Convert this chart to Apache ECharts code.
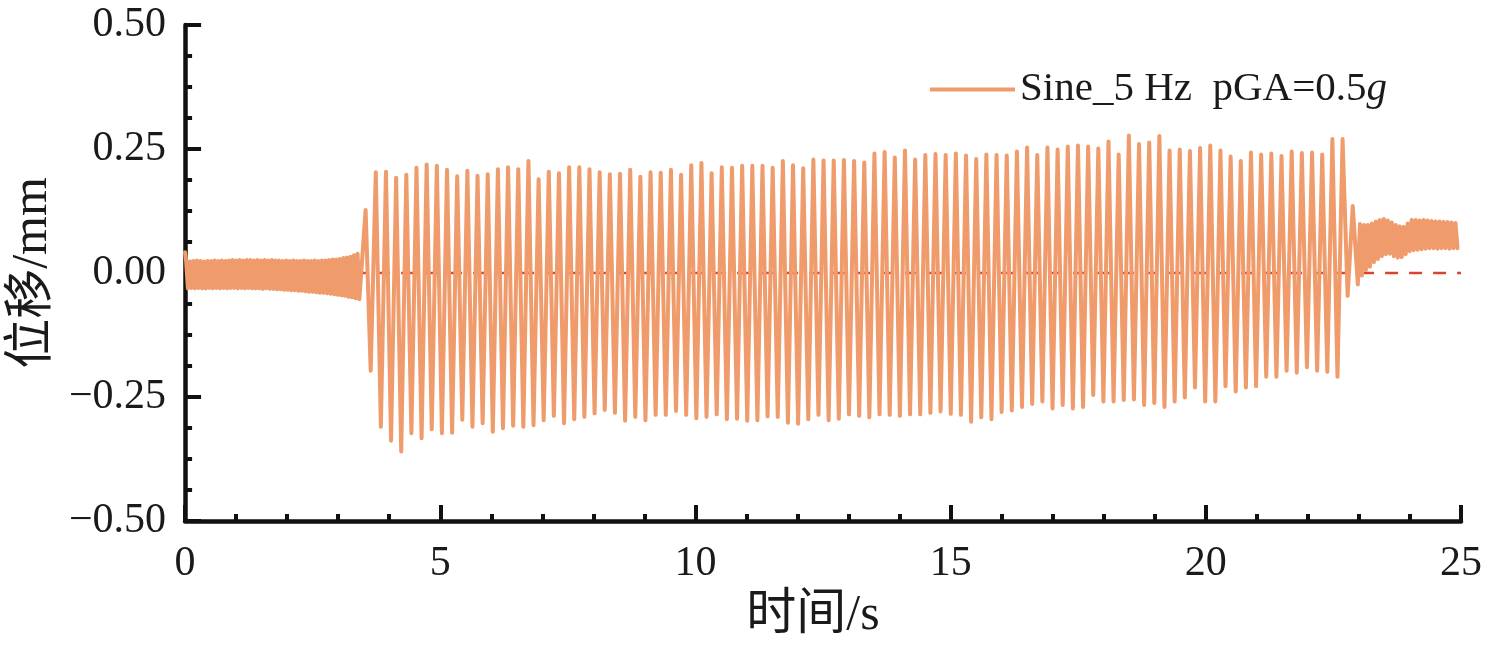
<!DOCTYPE html>
<html>
<head>
<meta charset="utf-8">
<script src="https://cdn.jsdelivr.net/npm/echarts@6/dist/echarts.min.js"></script>
<style>
html,body{margin:0;padding:0;background:#fff;}
#chart{width:1488px;height:656px;}
</style>
</head>
<body>
<div id="chart"></div>
<script>
// ---- data ----
const xTicks = [0, 5, 10, 15, 20, 25];
const yTicks = [-0.5, -0.25, 0, 0.25, 0.5];
const seriesName = 'Sine_5 Hz  pGA=0.5g';

// initial spike at t = 0
const startValue = 0.042;
// low-amplitude band before the shaking (0 - 3.45 s)
const PRE_T0 = 0.02, PRE_STEP = 0.07;
const preUpper = [
  0.024, 0.023, 0.024, 0.025, 0.024, 0.023, 0.024, 0.024, 0.025, 0.024,
  0.025, 0.024, 0.025, 0.026, 0.025, 0.026, 0.025, 0.026, 0.026, 0.025,
  0.026, 0.025, 0.026, 0.025, 0.026, 0.025, 0.025, 0.024, 0.025, 0.024,
  0.025, 0.024, 0.024, 0.025, 0.024, 0.024, 0.025, 0.024, 0.025, 0.025,
  0.026, 0.027, 0.027, 0.028, 0.030, 0.031, 0.033, 0.036, 0.039
];
const preLower = [
  -0.031, -0.030, -0.031, -0.030, -0.031, -0.031, -0.030, -0.031, -0.030, -0.031,
  -0.030, -0.031, -0.030, -0.030, -0.031, -0.030, -0.031, -0.030, -0.031, -0.031,
  -0.031, -0.032, -0.031, -0.032, -0.032, -0.033, -0.033, -0.034, -0.034, -0.035,
  -0.035, -0.036, -0.036, -0.037, -0.038, -0.038, -0.039, -0.040, -0.040, -0.041,
  -0.042, -0.043, -0.044, -0.045, -0.046, -0.048, -0.049, -0.051, -0.053
];

// 5 Hz cycles: peak of each cycle and the trough that follows it
const CYC_T0 = 3.537, CYC_PERIOD = 0.1994;
const peakValues = [
  0.127,
  0.203, 0.204, 0.192, 0.198, 0.212, 0.219, 0.216, 0.208, 0.195, 0.206,
  0.196, 0.199, 0.209, 0.213, 0.209, 0.226, 0.189, 0.204, 0.201, 0.213,
  0.213, 0.209, 0.203, 0.199,
  0.200, 0.208, 0.194, 0.203, 0.202, 0.208, 0.198, 0.217, 0.222, 0.201,
  0.213, 0.212, 0.216, 0.216, 0.216, 0.212, 0.226, 0.217, 0.211, 0.229,
  0.227, 0.227, 0.228, 0.226,
  0.223, 0.241, 0.244, 0.233, 0.247, 0.229, 0.238, 0.240, 0.238, 0.241,
  0.237, 0.230, 0.239, 0.238, 0.237, 0.245, 0.253, 0.238, 0.253, 0.249,
  0.255, 0.257, 0.255, 0.251, 0.265,
  0.239, 0.277, 0.260, 0.263, 0.276, 0.247, 0.249, 0.246, 0.252, 0.257,
  0.247, 0.235, 0.226, 0.243, 0.239, 0.241, 0.236, 0.245, 0.242, 0.243,
  0.239, 0.270, 0.270,
  0.135
];
const troughValues = [
  -0.197,
  -0.310, -0.338, -0.360, -0.323, -0.333, -0.315, -0.323, -0.322, -0.296, -0.310,
  -0.303, -0.320, -0.313, -0.308, -0.310, -0.307, -0.297, -0.288, -0.303, -0.295,
  -0.290, -0.283, -0.276, -0.282,
  -0.298, -0.290, -0.297, -0.286, -0.286, -0.278, -0.286, -0.293, -0.290, -0.285,
  -0.295, -0.294, -0.298, -0.297, -0.289, -0.290, -0.302, -0.304, -0.295, -0.286,
  -0.297, -0.294, -0.285, -0.288,
  -0.291, -0.285, -0.286, -0.288, -0.285, -0.285, -0.282, -0.279, -0.284, -0.286,
  -0.300, -0.291, -0.295, -0.280, -0.277, -0.270, -0.264, -0.259, -0.273, -0.266,
  -0.273, -0.270, -0.246, -0.259, -0.259,
  -0.256, -0.255, -0.266, -0.262, -0.270, -0.259, -0.251, -0.231, -0.259, -0.259,
  -0.228, -0.239, -0.231, -0.228, -0.209, -0.209, -0.197, -0.201, -0.190, -0.197,
  -0.199, -0.209, -0.046,
  -0.023
];

// residual band after the shaking (23 - 25 s)
const END_T0 = 23.02, END_STEP = 0.078;
const endUpper = [
  0.099, 0.097, 0.097, 0.100, 0.104, 0.107, 0.109, 0.106, 0.102, 0.097,
  0.094, 0.093, 0.100, 0.107, 0.107, 0.106, 0.107, 0.106, 0.105, 0.104,
  0.104, 0.103, 0.103, 0.102, 0.101
];
const endLower = [
  -0.005, 0.006, 0.013, 0.022, 0.028, 0.034, 0.038, 0.039, 0.034, 0.031,
  0.032, 0.038, 0.044, 0.046, 0.047, 0.048, 0.049, 0.050, 0.050, 0.049,
  0.050, 0.050, 0.049, 0.050, 0.050
];

// zero reference line
const refLine = [[0, 0], [25, 0]];

// ---- build the series from the arrays ----
const lineData = [[0, startValue]];
for (let i = 0; i < preUpper.length; i++) {
  lineData.push([PRE_T0 + i * PRE_STEP, preUpper[i]]);
  lineData.push([PRE_T0 + (i + 0.5) * PRE_STEP, preLower[i]]);
}
for (let i = 0; i < peakValues.length; i++) {
  lineData.push([CYC_T0 + i * CYC_PERIOD, peakValues[i]]);
  if (i < troughValues.length) lineData.push([CYC_T0 + (i + 0.5) * CYC_PERIOD, troughValues[i]]);
}
for (let i = 0; i < endUpper.length; i++) {
  lineData.push([END_T0 + i * END_STEP, endUpper[i]]);
  lineData.push([END_T0 + (i + 0.5) * END_STEP, endLower[i]]);
}

const SERIF = "'Liberation Serif', 'Times New Roman', 'Noto Sans CJK SC', serif";
const ORANGE = '#EF9B6B';
const RED = '#D9452C';
const TXT = '#1a1a1a';

const chart = echarts.init(document.getElementById('chart'), null, {renderer: 'canvas'});
chart.setOption({
  animation: false,
  backgroundColor: '#ffffff',
  grid: {left: 185, right: 27, top: 25, bottom: 135, containLabel: false},
  legend: {
    data: [seriesName],
    left: 925, top: 64,
    icon: 'rect', itemWidth: 85, itemHeight: 4, itemGap: 10,
    textStyle: {
      fontFamily: SERIF, fontSize: 41, color: TXT,
      rich: {
        n: {fontFamily: SERIF, fontSize: 41, color: TXT},
        i: {fontFamily: SERIF, fontSize: 41, color: TXT, fontStyle: 'italic'}
      }
    },
    formatter: function () { return '{n|Sine_5 Hz  pGA=0.5}{i|g}'; }
  },
  xAxis: {
    type: 'value', min: xTicks[0], max: xTicks[xTicks.length - 1], interval: 5,
    name: '时间/s', nameLocation: 'middle', nameGap: 70,
    nameTextStyle: {fontFamily: SERIF, fontSize: 50, color: TXT, padding: [0, 20, 0, 0]},
    axisLine: {show: true, onZero: false, lineStyle: {color: '#111', width: 4.5}},
    axisTick: {show: true, inside: true, length: 16, lineStyle: {color: '#111', width: 4}},
    minorTick: {show: true, splitNumber: 5, length: 7, lineStyle: {color: '#111', width: 4}},
    axisLabel: {margin: 22, fontFamily: SERIF, fontSize: 42, color: TXT,
      formatter: function (v) { return xTicks.indexOf(v) >= 0 ? String(v) : ''; }},
    splitLine: {show: false}
  },
  yAxis: {
    type: 'value', min: yTicks[0], max: yTicks[yTicks.length - 1], interval: 0.25,
    name: '位移/mm', nameLocation: 'middle', nameGap: 127, nameRotate: 90,
    nameTextStyle: {fontFamily: SERIF, fontSize: 50, color: TXT},
    axisLine: {show: true, onZero: false, lineStyle: {color: '#111', width: 4.5}},
    axisTick: {show: true, inside: true, length: 16, lineStyle: {color: '#111', width: 4}},
    minorTick: {show: true, splitNumber: 4, length: 7, lineStyle: {color: '#111', width: 4}},
    axisLabel: {margin: 19, fontFamily: SERIF, fontSize: 42, color: TXT,
      formatter: function (v) { return (v < 0 ? '\u2212' : '') + Math.abs(v).toFixed(2); }},
    splitLine: {show: false}
  },
  series: [
    {
      name: 'zero', type: 'line', data: refLine, symbol: 'none', silent: true,
      lineStyle: {color: RED, width: 2.5, type: [13, 11]}, z: 1
    },
    {
      name: seriesName, type: 'line', data: lineData, symbol: 'none', showSymbol: false,
      sampling: null, smooth: false, z: 2,
      lineStyle: {color: ORANGE, width: 4, join: 'round', cap: 'round'},
      itemStyle: {color: ORANGE}
    }
  ]
});
</script>
</body>
</html>
